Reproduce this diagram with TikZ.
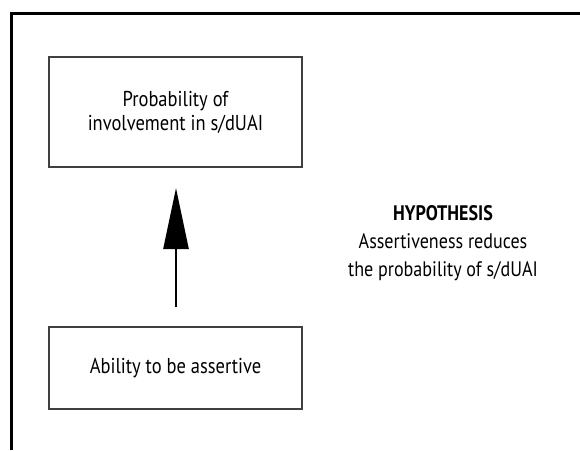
\documentclass[tikz,border=0pt]{standalone}
\usepackage{fontspec}
\setmainfont[FakeStretch=0.86]{PT Sans}
\usetikzlibrary{arrows.meta}
\begin{document}
\begin{tikzpicture}[x=1pt,y=-1pt,
  frame/.style={line width=3pt, draw=black},
  boxnode/.style={draw=black!75, line width=1.4pt, minimum width=253pt, minimum height=110pt, align=center, font=\fontsize{21.5}{24}\selectfont, inner sep=0pt},
  hyp/.style={align=center, font=\fontsize{21}{28}\selectfont}
]
\useasboundingbox (0,0) rectangle (580,450);
\coordinate (fa) at (11.5,450);
\coordinate (fb) at (11.5,13);
\coordinate (fc) at (580,13);
\draw[frame] (fa) -- (fb) -- (fc);
\node[boxnode] (top) at (175.5,112) {Probability of\\involvement in s/dUAI};
\node[boxnode, minimum height=82pt] (bot) at (175.5,368) {Ability to be assertive};
\coordinate (s) at (176,307);
\coordinate (t) at (176,188);
\draw[line width=2.5pt, -{Triangle[length=61pt, width=25pt]}] (s) -- (t);
\node[hyp] (h) at (443,243) {\textbf{HYPOTHESIS}\\Assertiveness reduces\\the probability of s/dUAI};
\end{tikzpicture}
\end{document}
